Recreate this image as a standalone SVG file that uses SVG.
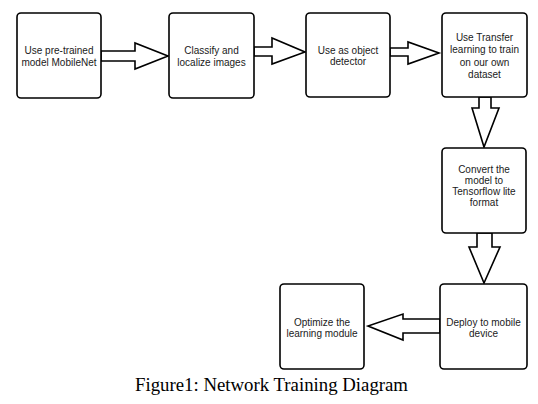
<svg xmlns="http://www.w3.org/2000/svg" width="538" height="404" viewBox="0 0 538 404">
<style>
.box{fill:#fff;stroke:#000;stroke-width:1.6}
.t{font-family:"Liberation Sans",Arial,sans-serif;font-size:10px;fill:#1a1a1a;text-anchor:middle}
.arr{fill:#fff;stroke:#000;stroke-width:1.6;stroke-linejoin:miter}
.cap{font-family:"Liberation Serif","Times New Roman",serif;font-size:18px;fill:#000}
</style>
<rect width="538" height="404" fill="#fff"/>
<g id="connectors">
<polygon class="arr" points="101,51 135,51 135,43 168,56 135,69 135,61 101,61"/>
<polygon class="arr" points="254,47 272,47 272,38 305,52 272,64 272,56 254,56"/>
<polygon class="arr" points="390,48 408,48 408,42 439,53 408,64 408,56 390,56"/>
<polygon class="arr" points="479,97 491,97 491,108 499,108 484,147 472,108 479,108"/>
<polygon class="arr" points="477,233 492,233 492,247 500,247 484,283 469,247 477,247"/>
<polygon class="arr" points="440,319 403,319 403,314 368,326 403,340 403,333 440,333"/>
</g>
<g id="n1"><rect class="box" x="17" y="13" width="84" height="85" rx="4"/>
<text class="t" x="59" y="54">Use pre-trained</text><text class="t" x="59" y="66">model MobileNet</text></g>
<g id="n2"><rect class="box" x="169" y="13" width="85" height="85" rx="4"/>
<text class="t" x="211.5" y="54">Classify and</text><text class="t" x="211.5" y="66">localize images</text></g>
<g id="n3"><rect class="box" x="306" y="13" width="84" height="84" rx="4"/>
<text class="t" x="348" y="54">Use as object</text><text class="t" x="348" y="65">detector</text></g>
<g id="n4"><rect class="box" x="442" y="13" width="85" height="84" rx="4"/>
<text class="t" x="484.5" y="41">Use Transfer</text><text class="t" x="484.5" y="53">learning to train</text><text class="t" x="484.5" y="66">on our own</text><text class="t" x="484.5" y="78">dataset</text></g>
<g id="n5"><rect class="box" x="442" y="148" width="84" height="85" rx="4"/>
<text class="t" x="484" y="173">Convert the</text><text class="t" x="484" y="184">model to</text><text class="t" x="484" y="195">Tensorflow lite</text><text class="t" x="484" y="206">format</text></g>
<g id="n6"><rect class="box" x="440" y="284" width="87" height="85" rx="4"/>
<text class="t" x="483.5" y="326">Deploy to mobile</text><text class="t" x="483.5" y="337">device</text></g>
<g id="n7"><rect class="box" x="280" y="284" width="84" height="85" rx="4"/>
<text class="t" x="322" y="326">Optimize the</text><text class="t" x="322" y="337">learning module</text></g>
<text class="cap" x="135" y="391" textLength="273" lengthAdjust="spacingAndGlyphs">Figure1: Network Training Diagram</text>
</svg>
